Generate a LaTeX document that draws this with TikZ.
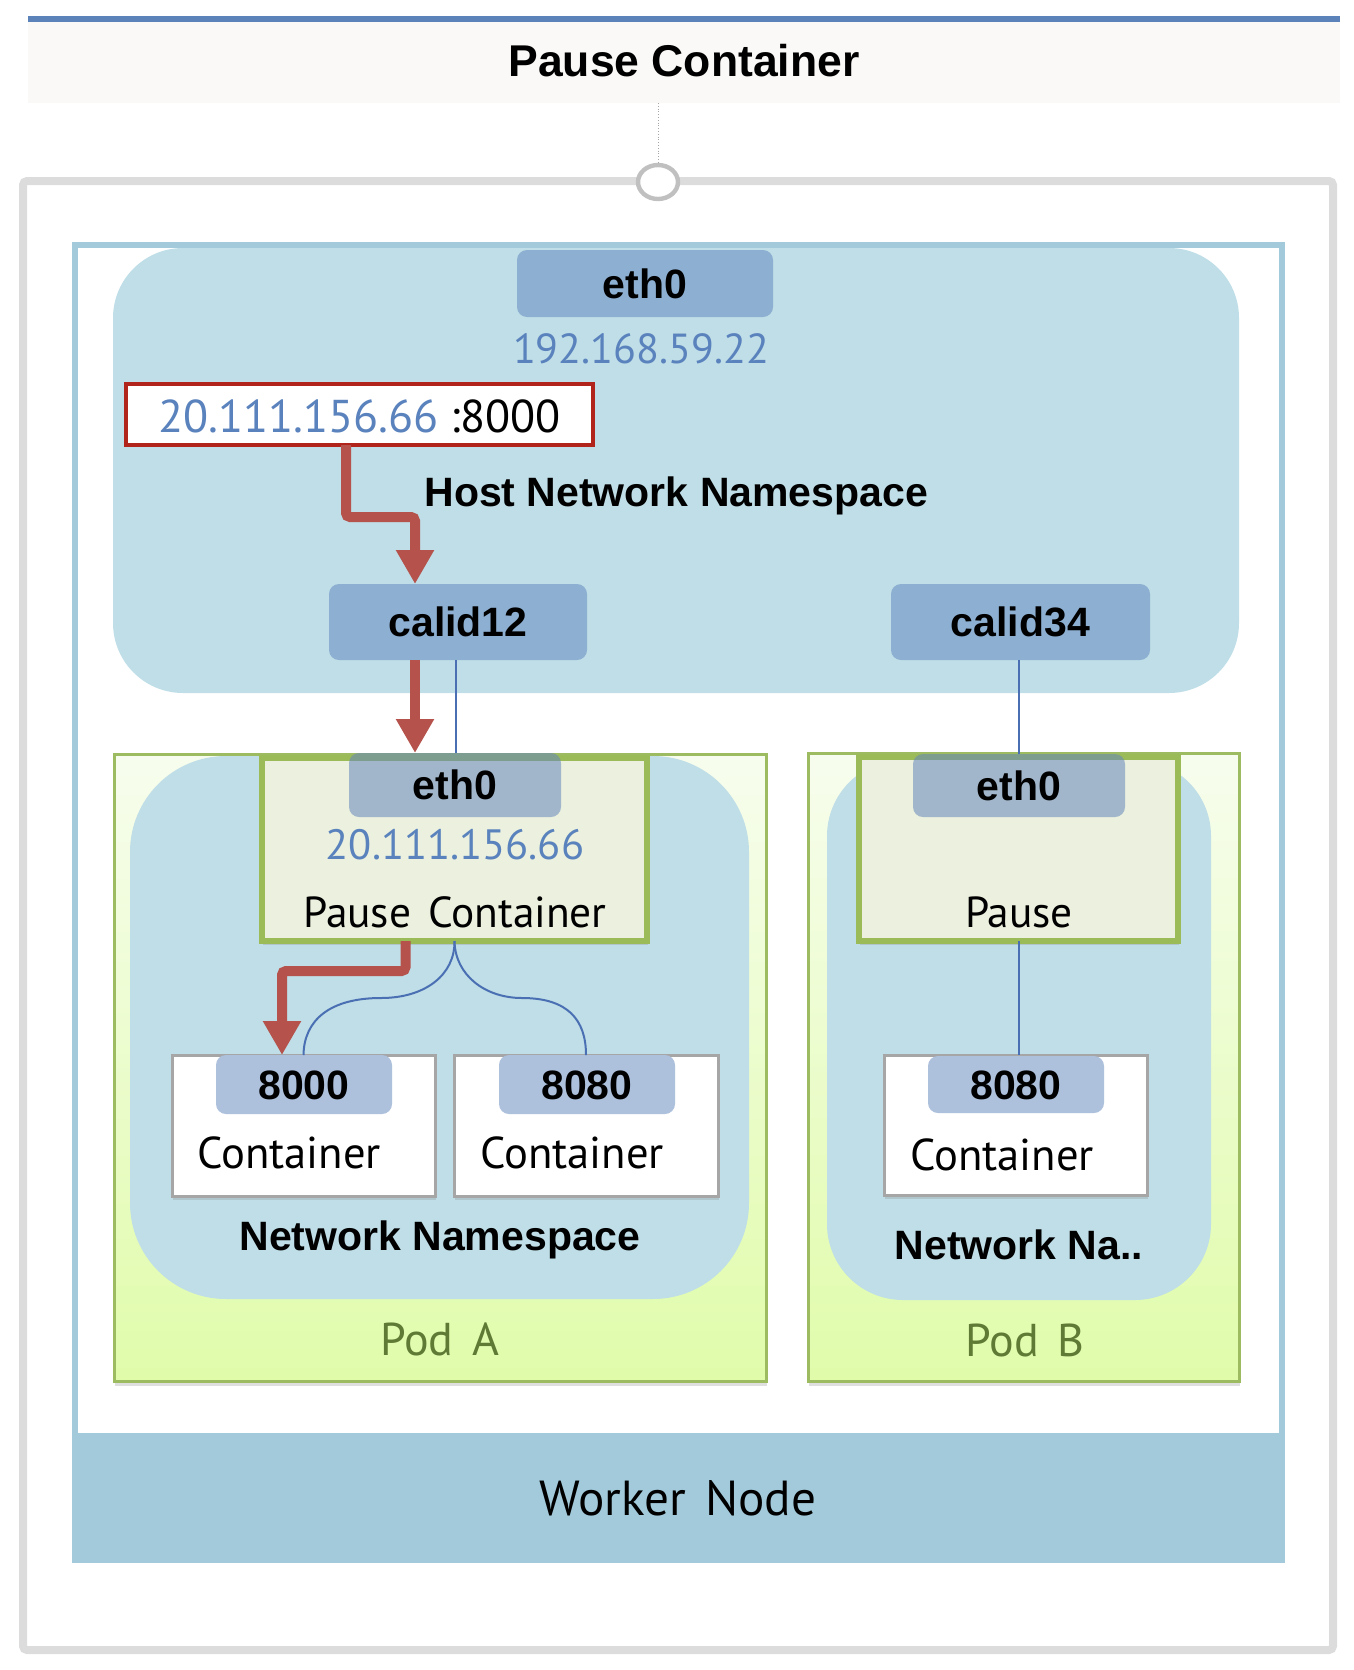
\documentclass[tikz,border=0pt]{standalone}
\usepackage{fontspec}
\setmainfont{PT Sans}
\newfontfamily\bsf{Liberation Sans}
\newfontfamily\rsf{PT Sans}
\usetikzlibrary{fit,shadows,arrows.meta,shapes.geometric}
\definecolor{tline}{HTML}{5B83B9}
\definecolor{tband}{HTML}{FAF9F7}
\definecolor{framec}{HTML}{DCDCDC}
\definecolor{circc}{HTML}{C0C0C0}
\definecolor{wnode}{HTML}{A2CADB}
\definecolor{nsfill}{HTML}{BFDEE7}
\definecolor{ifc}{HTML}{8DAFD1}
\definecolor{ipblue}{HTML}{5A82BD}
\definecolor{rbox}{HTML}{B0241C}
\definecolor{rarrow}{HTML}{B4524B}
\definecolor{podtop}{HTML}{F7FDEE}
\definecolor{podbot}{HTML}{E0FCAA}
\definecolor{podline}{HTML}{9DBB61}
\definecolor{pausefill}{HTML}{EBF1DE}
\definecolor{pauseline}{HTML}{9BBB59}
\definecolor{cline}{HTML}{A6A6A6}
\definecolor{portfill}{HTML}{ADC0DC}
\definecolor{podtxt}{HTML}{5E7A34}
\definecolor{bline}{HTML}{4A70B3}
\definecolor{ethin}{HTML}{6686BB}
\begin{document}
\begin{tikzpicture}[x=0.5pt,y=-0.5pt,
  box/.style={inner sep=0pt, outer sep=0pt},
  ifbox/.style={box, fill=ifc, rounded corners=5pt},
  portbox/.style={box, fill=portfill, rounded corners=5pt},
  ethbox/.style={box, fill=ethin, fill opacity=0.55, rounded corners=5pt},
  nsbox/.style={box, fill=nsfill},
  podbox/.style={box, draw=podline, line width=1.5pt, top color=podtop, bottom color=podbot,
     drop shadow={opacity=0.25, shadow xshift=0.5pt, shadow yshift=-2.5pt}},
  pausebox/.style={box, draw=pauseline, line width=3pt, fill=pausefill,
     drop shadow={opacity=0.25, shadow xshift=0.5pt, shadow yshift=-2pt}},
  contbox/.style={box, draw=cline, line width=1.5pt, fill=white,
     drop shadow={opacity=0.25, shadow xshift=0.5pt, shadow yshift=-2pt}},
  lbl/.style={inner sep=0pt, font=\bsf\bfseries\fontsize{20.5}{24}\selectfont, text height=14.7pt, text depth=0pt},
  titlef/.style={inner sep=0pt, font=\bsf\bfseries\fontsize{22.25}{26}\selectfont, text height=15.9pt, text depth=0pt},
  ipf/.style={inner sep=0pt, font=\rsf\fontsize{23}{26}\selectfont, text height=16pt, text depth=0pt, text=ipblue},
  ipsf/.style={inner sep=0pt, font=\rsf\fontsize{21.2}{25}\selectfont, text height=14.8pt, text depth=0pt, text=ipblue},
  contf/.style={inner sep=0pt, font=\rsf\fontsize{22.3}{25}\selectfont, text height=15.6pt, text depth=0pt},
  pausef/.style={inner sep=0pt, font=\rsf\fontsize{21.7}{25}\selectfont, text height=15.1pt, text depth=0pt},
  podf/.style={inner sep=0pt, font=\rsf\fontsize{23}{26}\selectfont, text height=16pt, text depth=0pt, text=podtxt},
  workf/.style={inner sep=0pt, font=\rsf\fontsize{24.6}{28}\selectfont, text height=17.2pt, text depth=0pt},
  redarrow/.style={draw=rarrow, line width=5pt, rounded corners=2pt, -{Triangle[width=18pt,length=17pt]}},
  blueline/.style={draw=bline, line width=1pt}
]
\useasboundingbox (0,0) rectangle (1354,1670);
% outer frame
\node[box, draw=framec, line width=4pt, rounded corners=2pt, fit={(23,181)(1333,1650)}] (frame) {};
% title
\node[box, fill=tline, fit={(28,16)(1340,22)}] (tbar) {};
\node[box, fill=tband, fit={(28,22)(1340,103)}] (tband) {};
\node[titlef] (title) at (684,61) {Pause Container};
\node[ellipse, draw=circc, line width=2.2pt, fill=white, inner sep=0pt, minimum width=20pt, minimum height=17pt] (knob) at (658,182) {};
\draw[gray!70, line width=0.4pt, densely dotted] (knob.north |- tband.south) -- (knob.north);
% worker node
\node[box, draw=wnode, line width=3pt, fit={(75,245)(1282,1560)}] (worker) {};
\node[box, fill=wnode, fit={(72,1433)(1285,1563)}] (wband) {};
\node[workf] (workT) at (678,1498) {Worker\hspace{0.12em} Node};
% host network namespace
\node[nsbox, rounded corners=35pt, fit={(113,248)(1239,693)}] (hostns) {};
\node[lbl, anchor=west] (hostT) at (424,492) {Host Network Namespace};
\node[ifbox, fit={(517,250)(773,317)}] (eth0h) {};
\node[lbl] at (eth0h.center) {eth0};
\node[ipsf, font=\rsf\fontsize{21}{25}\selectfont] (iph) at (641,349) {192.168.59.22};
\node[box, draw=rbox, line width=2pt, fill=white, fit={(126,384)(593,445)}] (redbox) {};
\node[ipf] (redT) at (359.5,416) {20.111.156.66 \textcolor{black}{:8000}};
\node[ifbox, fit={(329,584)(587,660)}] (calid12) {};
\node[lbl] at (calid12.center) {calid12};
\node[ifbox, fit={(891,584)(1150,660)}] (calid34) {};
\node[lbl] at (calid34.center) {calid34};
% Pod A
\node[podbox, fit={(114,754)(766,1381)}] (podA) {};
\node[nsbox, rounded corners=48pt, fit={(130,756)(749,1299)}] (nsA) {};
\node[pausebox, fit={(262,758)(647,941)}] (pauseA) {};
\node[ethbox, fit={(349,753)(561,817)}] (eth0A) {};
\node[lbl] at (eth0A.center) {eth0};
\node[ipsf] (ipA) at (455,845) {20.111.156.66};
\node[pausef] (pauseAT) at (455,912) {Pause\hspace{0.12em} Container};
\node[contbox, fit={(172,1055)(435,1196)}] (c8000) {};
\node[portbox, fit={(216,1055)(392,1114)}] (p8000) {};
\node[lbl] at (p8000.center) {8000};
\node[contf] (c8000T) at (289,1153) {Container};
\node[contbox, fit={(454,1055)(718,1196)}] (c8080A) {};
\node[portbox, fit={(499,1055)(675,1114)}] (p8080A) {};
\node[lbl] at (p8080A.center) {8080};
\node[contf] (c8080AT) at (572,1153) {Container};
\node[lbl] (nsAT) at (440,1236) {Network Namespace};
\node[podf] (podAT) at (440,1339) {Pod\hspace{0.15em} A};
% Pod B
\node[podbox, fit={(808,753)(1239,1381)}] (podB) {};
\node[nsbox, rounded corners=38pt, fit={(827,760)(1211,1300)}] (nsB) {};
\node[pausebox, fit={(859,757)(1178,941)}] (pauseB) {};
\node[ethbox, fit={(913,754)(1125,817)}] (eth0B) {};
\node[lbl] at (eth0B.center) {eth0};
\node[pausef] (pauseBT) at (1019,912) {Pause};
\node[contbox, fit={(884,1055)(1147,1195)}] (c8080B) {};
\node[portbox, fit={(928,1056)(1104,1113)}] (p8080B) {};
\node[lbl] at (p8080B.center) {8080};
\node[contf] (c8080BT) at (1002,1155) {Container};
\node[lbl] (nsBT) at (1019,1245) {Network Na..};
\node[podf] (podBT) at (1025,1340) {Pod\hspace{0.15em} B};
% connectors
\coordinate (r1) at (415,517);
\draw[redarrow] ([xshift=-6.75pt]redbox.south) |- (r1) -- ([xshift=-21.5pt]calid12.north);
\draw[redarrow] ([xshift=-21.5pt]calid12.south) -- ([xshift=-20pt]eth0A.north);
\draw[blueline] ([xshift=-1pt]calid12.south) -- ([xshift=0.5pt]eth0A.north);
\draw[blueline] (calid34.south -| eth0B.north) -- (eth0B.north);
\draw[blueline] (pauseB.south) -- (pauseB.south |- c8080B.north);
\draw[blueline] (pauseA.south) .. controls (455,975) and (425,998) .. (381,998) .. controls (330,998) and (304,1020) .. (c8000.north);
\draw[blueline] (pauseA.south) .. controls (455,975) and (485,998) .. (522,998) .. controls (568,998) and (586,1020) .. (c8080A.north);
\coordinate (r2) at (282,971);
\draw[redarrow] ([xshift=-24.5pt]pauseA.south) |- (r2) -- ([xshift=-10.75pt]c8000.north);
\end{tikzpicture}
\end{document}
